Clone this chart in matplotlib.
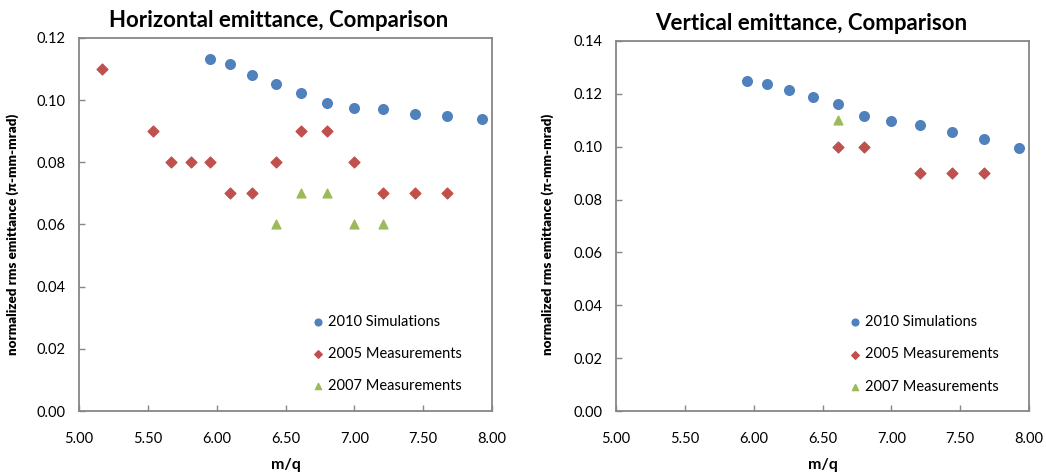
import matplotlib
matplotlib.use("Agg")
import matplotlib.pyplot as plt

plt.rcParams['font.family'] = ['Lato', 'DejaVu Sans']

# Horizontal emittance data
h_sim_x = [5.95, 6.10, 6.26, 6.43, 6.61, 6.80, 7.00, 7.21, 7.44, 7.67, 7.93]
h_sim_y = [0.1132, 0.1116, 0.1080, 0.1051, 0.1022, 0.0992, 0.0976, 0.0971, 0.0957, 0.0950, 0.0941]
h_m05_x = [5.17, 5.535, 5.67, 5.81, 5.95, 6.10, 6.26, 6.43, 6.61, 6.80, 7.00, 7.21, 7.44, 7.67]
h_m05_y = [0.11, 0.09, 0.08, 0.08, 0.08, 0.07, 0.07, 0.08, 0.09, 0.09, 0.08, 0.07, 0.07, 0.07]
h_m07_x = [6.43, 6.61, 6.80, 7.00, 7.21]
h_m07_y = [0.06, 0.07, 0.07, 0.06, 0.06]

# Vertical emittance data
v_sim_x = [5.95, 6.10, 6.26, 6.43, 6.61, 6.80, 7.00, 7.21, 7.44, 7.67, 7.93]
v_sim_y = [0.1250, 0.1238, 0.1213, 0.1189, 0.1162, 0.1118, 0.1097, 0.1083, 0.1057, 0.1029, 0.0996]
v_m05_x = [6.61, 6.80, 7.21, 7.44, 7.67]
v_m05_y = [0.10, 0.10, 0.09, 0.09, 0.09]
v_m07_x = [6.61]
v_m07_y = [0.11]

labels = ["2010 Simulations", "2005 Measurements", "2007 Measurements"]
x_ticks = [5.0, 5.5, 6.0, 6.5, 7.0, 7.5, 8.0]

BLUE = '#4F81BD'
RED = '#C0504D'
GREEN = '#9BBB59'
GRAY = '#868686'

fig = plt.figure(figsize=(10.46, 4.73), dpi=100)
axL = fig.add_axes([79/1046, 62/473, 413/1046, 373/473])
axR = fig.add_axes([616/1046, 62/473, 413/1046, 370/473])

def style(ax, title, ymax, ystep, title_x):
    ax.set_xlim(5.0, 8.0)
    ax.set_ylim(0, ymax)
    ax.set_xticks(x_ticks)
    ax.set_xticklabels([f"{t:.2f}" for t in x_ticks])
    n = int(round(ymax / ystep))
    yt = [i * ystep for i in range(n + 1)]
    ax.set_yticks(yt)
    ax.set_yticklabels([f"{t:.2f}" for t in yt])
    for s in ax.spines.values():
        s.set_color(GRAY)
        s.set_linewidth(1.3)
    ax.tick_params(direction='in', length=4, width=1, color=GRAY, labelsize=10.5,
                   labelcolor='#000000')
    ax.tick_params(axis='x', pad=15)
    ax.tick_params(axis='y', pad=10)
    ax.set_title(title, fontsize=16, fontweight='bold', pad=8, x=title_x)
    ax.set_xlabel("m/q", fontsize=11.5, fontweight='bold', labelpad=9)
    ax.set_ylabel("normalized rms emittance (π-mm-mrad)", fontsize=9.6, fontweight='heavy')

def draw(ax, sx, sy, ax5, ay5, ax7, ay7):
    ax.scatter(sx, sy, s=48, marker='o', color=BLUE, label=labels[0], zorder=3)
    ax.scatter(ax5, ay5, s=30, marker='D', color=RED, label=labels[1], zorder=3)
    ax.scatter(ax7, ay7, s=40, marker='^', color=GREEN, label=labels[2], zorder=3)
    ax.legend(loc='center left', bbox_to_anchor=(0.543, 0.153), frameon=False,
              fontsize=10.5, labelspacing=1.25, handletextpad=0.1, handlelength=1.2,
              markerscale=0.7, scatterpoints=1, borderaxespad=0)

draw(axL, h_sim_x, h_sim_y, h_m05_x, h_m05_y, h_m07_x, h_m07_y)
style(axL, "Horizontal emittance, Comparison", 0.12, 0.02, (279 - 79) / 413)
axL.yaxis.set_label_coords(-(79 - 19) / 413, (411 - 234) / 373)
draw(axR, v_sim_x, v_sim_y, v_m05_x, v_m05_y, v_m07_x, v_m07_y)
style(axR, "Vertical emittance, Comparison", 0.14, 0.02, (811 - 616) / 413)
axR.yaxis.set_label_coords(-(616 - 554) / 413, (411 - 234) / 370)

fig.savefig("out.png", dpi=100)
